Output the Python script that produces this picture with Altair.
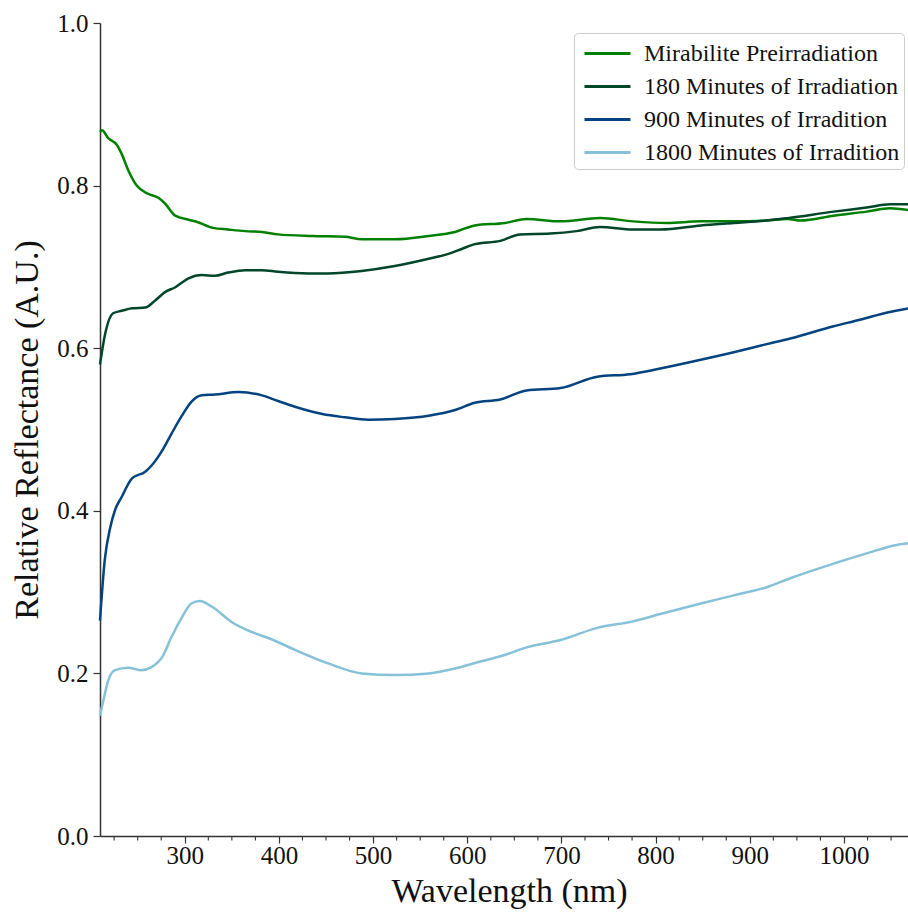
import altair as alt
import pandas as pd

# Reflectance spectra of mirabilite before and after irradiation
series_names = [
    "Mirabilite Preirradiation",
    "180 Minutes of Irradiation",
    "900 Minutes of Irradition",
    "1800 Minutes of Irradition",
]
series_colors = ["#008000", "#00462b", "#04437f", "#85c1d8"]

wl_pre = [210, 212, 219, 228, 233, 240, 249, 261, 272, 279, 290, 304, 314, 330, 346, 364,
          382, 399, 435, 470, 488, 523, 559, 587, 608, 640, 663, 699, 741, 776, 812, 848,
          883, 918, 940, 954, 989, 1024, 1049, 1068]
refl_pre = [0.866, 0.868, 0.858, 0.850, 0.839, 0.819, 0.800, 0.790, 0.785, 0.778, 0.763,
            0.758, 0.755, 0.748, 0.746, 0.744, 0.743, 0.740, 0.738, 0.737, 0.734, 0.734,
            0.738, 0.743, 0.751, 0.754, 0.759, 0.756, 0.760, 0.756, 0.754, 0.756, 0.756,
            0.757, 0.759, 0.757, 0.763, 0.768, 0.772, 0.770]

wl_180 = [210, 215, 224, 233, 244, 258, 268, 279, 290, 304, 318, 332, 346, 364, 382, 399,
          431, 452, 488, 523, 559, 580, 594, 608, 635, 656, 688, 716, 741, 776, 805, 848,
          883, 918, 940, 989, 1024, 1049, 1068]
refl_180 = [0.580, 0.615, 0.643, 0.646, 0.649, 0.650, 0.658, 0.669, 0.675, 0.686, 0.690,
            0.689, 0.693, 0.696, 0.696, 0.694, 0.692, 0.692, 0.695, 0.701, 0.710, 0.716,
            0.722, 0.728, 0.732, 0.740, 0.741, 0.744, 0.749, 0.746, 0.746, 0.751, 0.754,
            0.757, 0.760, 0.768, 0.773, 0.777, 0.777]

wl_900 = [210, 215, 221, 226, 233, 244, 258, 265, 276, 286, 297, 307, 318, 332, 357, 382,
          399, 417, 446, 470, 495, 523, 559, 587, 608, 635, 663, 699, 738, 773, 801, 837,
          883, 918, 943, 989, 1017, 1046, 1068]
refl_900 = [0.265, 0.339, 0.380, 0.401, 0.417, 0.440, 0.448, 0.456, 0.474, 0.495, 0.517,
            0.534, 0.542, 0.543, 0.546, 0.542, 0.535, 0.528, 0.519, 0.515, 0.512, 0.513,
            0.517, 0.524, 0.533, 0.537, 0.548, 0.551, 0.565, 0.568, 0.574, 0.583, 0.595,
            0.605, 0.612, 0.627, 0.635, 0.644, 0.649]

wl_1800 = [210, 214, 219, 226, 240, 254, 265, 276, 286, 297, 307, 316, 329, 350, 371, 392,
           417, 453, 488, 523, 559, 587, 612, 638, 663, 699, 738, 776, 805, 848, 883, 918,
           943, 989, 1025, 1056, 1068]
refl_1800 = [0.148, 0.169, 0.192, 0.204, 0.207, 0.204, 0.208, 0.220, 0.245, 0.269, 0.286,
             0.289, 0.282, 0.263, 0.251, 0.242, 0.229, 0.212, 0.200, 0.198, 0.200, 0.206,
             0.214, 0.222, 0.232, 0.241, 0.256, 0.264, 0.273, 0.286, 0.296, 0.306, 0.317,
             0.335, 0.348, 0.358, 0.360]

major_ticks = [300, 400, 500, 600, 700, 800, 900, 1000]
minor_ticks = [t for t in range(225, 1051, 25) if t % 100 != 0]
y_ticks = [0.0, 0.2, 0.4, 0.6, 0.8, 1.0]

x_domain = [210, 1068]
FONT = "Liberation Serif"

frames = []
for name, wl, refl in zip(series_names,
                          [wl_pre, wl_180, wl_900, wl_1800],
                          [refl_pre, refl_180, refl_900, refl_1800]):
    frames.append(pd.DataFrame({"wl": wl, "refl": refl, "series": name}))
spectra = pd.concat(frames, ignore_index=True)
spectra["order"] = spectra["series"].map({n: i for i, n in enumerate(series_names)})

x_scale = alt.Scale(domain=x_domain, nice=False, zero=False)
x_axis = alt.Axis(values=major_ticks, format="d", title="Wavelength (nm)", titleX=409)

lines = alt.Chart(spectra).mark_line(strokeWidth=2.5, interpolate="monotone").encode(
    x=alt.X("wl:Q", scale=x_scale, axis=x_axis),
    y=alt.Y("refl:Q", scale=alt.Scale(domain=[0, 1], nice=False),
            axis=alt.Axis(values=y_ticks, format=".1f",
                          title="Relative Reflectance (A.U.)")),
    color=alt.Color("series:N", sort=series_names,
                    scale=alt.Scale(domain=series_names, range=series_colors),
                    legend=alt.Legend(
                        title=None, orient="none", legendX=474, legendY=10,
                        # a short horizontal stroke, longer than the symbol slot
                        symbolType="M-0.667,0H2.4", symbolStrokeWidth=3, symbolSize=900,
                        labelFont=FONT, labelFontSize=24, labelColor="#111111",
                        labelOffset=33, labelLimit=0, padding=4, rowPadding=4,
                        strokeColor="#cccccc", fillColor="white", cornerRadius=4)),
    detail="series:N",
    order="order:Q",
)

# minor ticks every 25 nm along the wavelength axis
minor = alt.Chart(pd.DataFrame({"wl": minor_ticks})).mark_rule(
    color="#333333", strokeWidth=1.1
).encode(
    x=alt.X("wl:Q", scale=x_scale, axis=x_axis),
    y=alt.value(813),
    y2=alt.value(817.5),
)

chart = alt.layer(lines, minor).properties(
    width=808,
    height=813,
    autosize=alt.AutoSizeParams(type="none"),
    padding={"left": 100, "top": 23, "right": 0, "bottom": 80},
).configure_view(
    stroke=None
).configure_axis(
    grid=False,
    domainColor="#333333",
    domainWidth=1.5,
    tickColor="#333333",
    tickWidth=1.2,
    tickSize=7,
    labelFont=FONT,
    labelFontSize=25,
    labelColor="#111111",
    titleFont=FONT,
    titleFontSize=34,
    titleFontWeight="normal",
    titleColor="#111111",
).configure_axisX(
    labelPadding=0,
    titlePadding=6,
).configure_axisY(
    labelPadding=5,
    titlePadding=12,
)

chart.save("out.html", embed_options={"renderer": "svg", "actions": False})
